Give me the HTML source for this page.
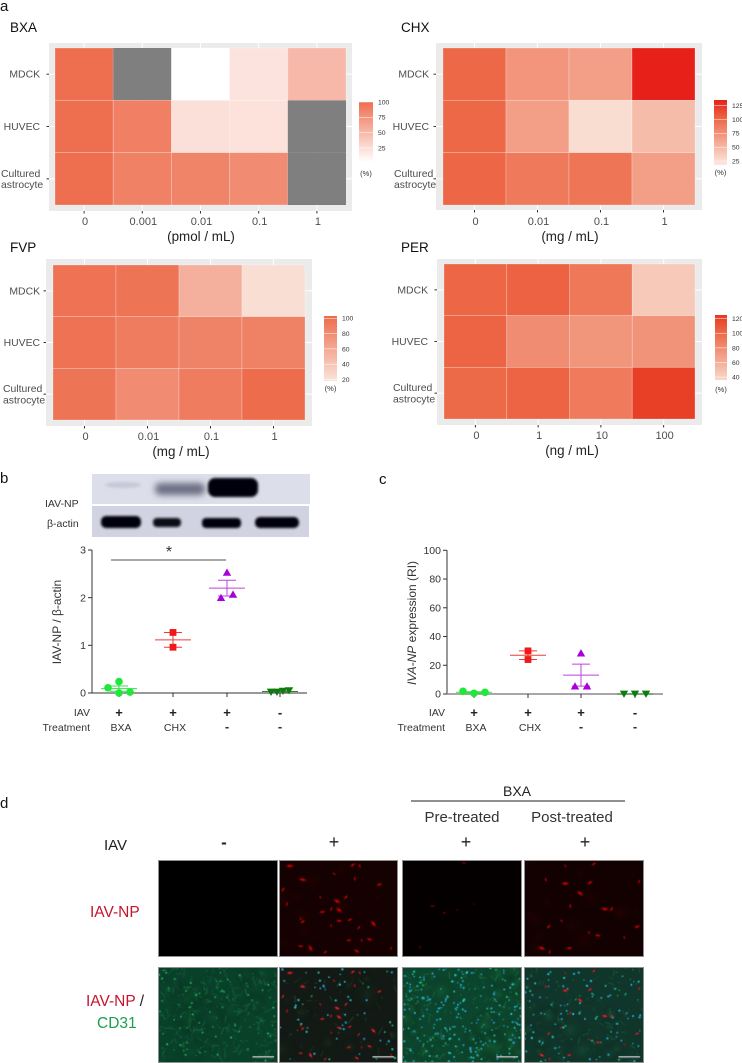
<!DOCTYPE html>
<html lang="en"><head><meta charset="utf-8"><title>Antiviral heatmaps, blot and microscopy figure</title>
<style>
html,body{margin:0;padding:0;background:#fff}
#figure{position:relative;width:742px;height:1063px;overflow:hidden;background:#fff;font-family:"Liberation Sans",sans-serif}
#main{position:absolute;left:0;top:0;filter:blur(.3px)}
canvas{position:absolute;display:block;box-sizing:border-box;border:1px solid #8f8f8f}
text{font-family:"Liberation Sans","DejaVu Sans",sans-serif}
</style></head>
<body>
<div id="figure">
<svg id="main" width="742" height="1063" viewBox="0 0 742 1063">
<defs>
<filter id="b1" x="-30%" y="-60%" width="160%" height="220%"><feGaussianBlur stdDeviation="1.4"/></filter>
<filter id="b2" x="-30%" y="-80%" width="160%" height="260%"><feGaussianBlur stdDeviation="3.2"/></filter>
</defs>
<g id="heatmaps"></g>
<text x="0" y="11" font-size="15" fill="#111">a</text>
<text x="0" y="483" font-size="15" fill="#111">b</text>
<text x="379" y="484" font-size="15" fill="#111">c</text>
<text x="0" y="808" font-size="15" fill="#111">d</text>

<g>
<rect x="92" y="474" width="218" height="30" fill="#dcdee9"/>
<rect x="92" y="506" width="217" height="31" fill="#d2d3e2"/>
<ellipse cx="123" cy="485" rx="18" ry="3" fill="#c6c8d8" filter="url(#b1)"/>
<rect x="155" y="483" width="50" height="12" rx="5" fill="#6d6e84" filter="url(#b2)"/>
<rect x="208" y="478" width="50" height="19" rx="7" fill="#020208" filter="url(#b1)"/>
<rect x="101" y="516" width="40" height="12" rx="5" fill="#05050f" filter="url(#b1)"/>
<rect x="153" y="518" width="28" height="9" rx="4" fill="#0a0a18" filter="url(#b1)"/>
<rect x="202" y="518" width="39" height="10" rx="4" fill="#05050f" filter="url(#b1)"/>
<rect x="255" y="517" width="44" height="11" rx="5" fill="#05050f" filter="url(#b1)"/>
<text x="45" y="507" font-size="10.5" fill="#333">IAV-NP</text>
<text x="47" y="527" font-size="10.5" fill="#333">β-actin</text>
</g>
<g id="scatterB"></g>
<g id="scatterC"></g>

<g>
<text x="517" y="796" font-size="14" text-anchor="middle" fill="#222">BXA</text>
<line x1="411" x2="625" y1="801" y2="801" stroke="#222" stroke-width="1"/>
<text x="462" y="822" font-size="15" text-anchor="middle" fill="#333">Pre-treated</text>
<text x="572" y="822" font-size="15" text-anchor="middle" fill="#333">Post-treated</text>
<text x="104" y="850" font-size="15" fill="#222">IAV</text>
<text x="224" y="848" font-size="17" font-weight="bold" text-anchor="middle" fill="#222">-</text>
<text x="334" y="848" font-size="18" text-anchor="middle" fill="#222">+</text>
<text x="466" y="848" font-size="18" text-anchor="middle" fill="#222">+</text>
<text x="585" y="848" font-size="18" text-anchor="middle" fill="#222">+</text>
<text x="90" y="917" font-size="15.5" fill="#c5142f">IAV-NP</text>
<text x="86" y="1006" font-size="15.5" fill="#c5142f">IAV-NP <tspan fill="#222">/</tspan></text>
<text x="97" y="1028" font-size="15.5" fill="#1aa050">CD31</text>
</g>
</svg>
</div>
<script>
// ---------- Heatmap data ----------
const heatRows = ['MDCK', 'HUVEC', 'Cultured astrocyte'];
const bxaDoses = ['0', '0.001', '0.01', '0.1', '1'];
const chxDoses = ['0', '0.01', '0.1', '1'];
const fvpDoses = ['0', '0.01', '0.1', '1'];
const perDoses = ['0', '1', '10', '100'];
const bxaValues = [[100, null, 2, 21, 50], [100, 89, 23, 22, null], [100, 88, 86, 80, null]];
const chxValues = [[101, 72, 66, 135], [101, 66, 26, 47], [102, 90, 93, 66]];
const fvpValues = [[99, 97, 55, 22], [99, 92, 87, 88], [97, 80, 92, 103]];
const perValues = [[102, 104, 92, 45], [103, 80, 75, 76], [100, 103, 90, 122]];
const bxaTicks = [100, 75, 50, 25];
const chxTicks = [125, 100, 75, 50, 25];
const fvpTicks = [100, 80, 60, 40, 20];
const perTicks = [120, 100, 80, 60, 40];
// ---------- Scatter data ----------
const groupSymbols = ['+', '+', '+', '-'];
const groupTreatments = ['BXA', 'CHX', '-', '-'];
const blotBxa = [0.24, 0.11, 0.0, 0.02];
const blotChx = [1.27, 0.96];
const blotNone = [2.53, 2.07, 2.0];
const blotMock = [0.02, 0.04, 0.05, 0.02];
const blotTicks = [0, 1, 2, 3];
const rnaBxa = [1.9, 0.5, 1.2];
const rnaChx = [30, 24];
const rnaNone = [28.5, 5.5, 5.5];
const rnaMock = [0, 0, 0];
const rnaTicks = [0, 20, 40, 60, 80, 100];

const NS = 'http://www.w3.org/2000/svg';
function mk(parent, tag, attrs) {
  const e = document.createElementNS(NS, tag);
  for (const k in attrs) e.setAttribute(k, attrs[k]);
  parent.appendChild(e);
  return e;
}
function hex(c) { return [1, 3, 5].map(i => parseInt(c.substr(i, 2), 16)); }
function colorScale(domain, colors) {
  return function (v) {
    v = Math.max(domain[0], Math.min(domain[domain.length - 1], v));
    let i = 0;
    while (i < domain.length - 2 && v > domain[i + 1]) i++;
    const t = (v - domain[i]) / (domain[i + 1] - domain[i]);
    const a = hex(colors[i]), b = hex(colors[i + 1]);
    return 'rgb(' + a.map((x, j) => Math.round(x + (b[j] - x) * t)).join(',') + ')';
  };
}
let gradId = 0;
function drawHeatmap(key, title, cols, unit, values, ticks, domain, colors, g) {
  const root = document.getElementById('heatmaps');
  const grp = mk(root, 'g', {});
  
  
  const scale = colorScale(domain, colors);
  const [px0, py0, px1, py1] = g.panel, [tx0, ty0, tx1, ty1] = g.tile;
  const cw = (tx1 - tx0) / cols.length, rh = (ty1 - ty0) / heatRows.length;
  const xc = i => tx0 + cw * (i + 0.5), yc = i => ty0 + rh * (i + 0.5);

  const tt = mk(grp, 'text', {x: g.titleX, y: g.titleY, 'font-size': 13.5, fill: '#111'});
  tt.textContent = title;
  
  
  const bg = mk(grp, 'rect', {x: px0, y: py0, width: px1 - px0, height: py1 - py0, fill: '#ebebeb'});
  
  

  cols.forEach((c, i) => {
    const gl = mk(grp, 'line', {x1: xc(i), x2: xc(i), y1: py0, y2: py1, stroke: '#fff', 'stroke-width': 1});
    
    
    const tk = mk(grp, 'line', {x1: xc(i), x2: xc(i), y1: py1, y2: py1 + 2.5, stroke: '#333', 'stroke-width': 1});
    
    
    const tl = mk(grp, 'text', {x: xc(i) + 1, y: ty1 + 20, 'font-size': 11, 'text-anchor': 'middle', fill: '#4d4d4d'});
    tl.textContent = c;
    
    
  });
  heatRows.forEach((r, i) => {
    const gl = mk(grp, 'line', {x1: px0, x2: px1, y1: yc(i), y2: yc(i), stroke: '#fff', 'stroke-width': 1});
    
    
    const tk = mk(grp, 'line', {x1: px0 - 2.5, x2: px0, y1: yc(i), y2: yc(i), stroke: '#333', 'stroke-width': 1});
    
    
    const parts = r.split(' ');
    parts.forEach((p, k) => {
      const multi = parts.length > 1;
      const tl = mk(grp, 'text', {
        x: multi ? g.multiStart : g.labelEnd,
        y: multi ? yc(i) - 2 + k * 11.2 : yc(i) + 3.5,
        'font-size': 10.4, fill: '#4d4d4d', 'text-anchor': multi ? 'start' : 'end'
      });
      tl.textContent = p;
      
      
    });
  });
  values.forEach((row, ri) => row.forEach((v, ci) => {
    const cell = mk(grp, 'rect', {
      x: tx0 + ci * cw, y: ty0 + ri * rh, width: cw, height: rh,
      fill: v === null ? '#7f7f7f' : scale(v),
      stroke: v === null ? 'none' : 'rgba(255,255,255,.35)', 'stroke-width': 0.7
    });
    
    
  }));
  const ut = mk(grp, 'text', {x: g.unitX, y: ty1 + 36, 'font-size': 13.4, 'text-anchor': 'middle', fill: '#222'});
  ut.textContent = unit;
  
  

  // colour legend
  const [lx0, ly0, lx1, ly1] = g.legend;
  const id = 'grad' + (gradId++);
  const defs = document.querySelector('#main defs');
  const lg = mk(defs, 'linearGradient', {id: id, x1: 0, y1: 1, x2: 0, y2: 0});
  const lo = domain[0], hi = domain[domain.length - 1];
  for (let s = 0; s <= 20; s++) mk(lg, 'stop', {offset: s / 20, 'stop-color': scale(lo + (hi - lo) * s / 20)});
  const lr = mk(grp, 'rect', {x: lx0, y: ly0, width: lx1 - lx0, height: ly1 - ly0, fill: 'url(#' + id + ')'});
  
  
  const ly = v => ly1 - (v - lo) / (hi - lo) * (ly1 - ly0);
  ticks.forEach(t => {
    const m = mk(grp, 'line', {x1: lx0, x2: lx1, y1: ly(t), y2: ly(t), stroke: '#fff', 'stroke-width': 0.6, 'stroke-opacity': 0.8});
    
    
    const l = mk(grp, 'text', {x: lx1 + 5, y: ly(t) + 2.4, 'font-size': 6.8, fill: '#333'});
    l.textContent = t;
    
    
  });
  const pct = mk(grp, 'text', {x: (lx0 + lx1) / 2, y: g.pctY, 'font-size': 7.5, 'text-anchor': 'middle', fill: '#333'});
  pct.textContent = '(%)';
  
  
}

drawHeatmap('bxa', 'BXA', bxaDoses, '(pmol / mL)', bxaValues, bxaTicks, [2, 100], ['#ffffff', '#ee6f4f'],
  {panel: [49, 43, 352, 211], tile: [55, 48, 346, 205], titleX: 10, titleY: 32, labelEnd: 40, multiStart: 1, legend: [359, 102, 373, 162], pctY: 176, unitX: 201});
drawHeatmap('chx', 'CHX', chxDoses, '(mg / mL)', chxValues, chxTicks, [18, 100, 135], ['#fbe9e0', '#ed6a48', '#e7201a'],
  {panel: [436, 43, 702, 210], tile: [443, 48, 695, 205], titleX: 401, titleY: 32, labelEnd: 429, multiStart: 394, legend: [714, 100, 727, 165], pctY: 175, unitX: 570});
drawHeatmap('fvp', 'FVP', fvpDoses, '(mg / mL)', fvpValues, fvpTicks, [18, 103], ['#fae4da', '#ed6c4c'],
  {panel: [46, 259, 312, 426], tile: [53, 265, 305, 420], titleX: 10, titleY: 252, labelEnd: 40, multiStart: 3, legend: [324, 316, 337, 381], pctY: 391, unitX: 181});
drawHeatmap('per', 'PER', perDoses, '(ng / mL)', perValues, perTicks, [36, 100, 125], ['#f8d8ca', '#ed6a48', '#e73a22'],
  {panel: [437, 259, 702, 425], tile: [444, 264, 695, 419], titleX: 401, titleY: 252, labelEnd: 428, multiStart: 393, legend: [715, 315, 727, 380], pctY: 392, unitX: 572});

// ---------- Scatter plots ----------
function spread(vals, yScale) {
  const order = vals.map((v, i) => i).sort((a, b) => vals[a] - vals[b]);
  const off = vals.map(() => 0);
  let cl = [];
  function flush() {
    const n = cl.length;
    if (n > 1 && n % 2 === 0) {
      const sp = 24 / n;
      cl.forEach((idx, k) => { off[idx] = (k - (n - 1) / 2) * sp; });
    } else if (n > 1) {
      cl.forEach((idx, k) => { off[idx] = k === 0 ? 0 : (k % 2 ? 1 : -1) * Math.ceil(k / 2) * 11; });
    }
    cl = [];
  }
  order.forEach(idx => {
    if (cl.length && Math.abs(yScale(vals[idx]) - yScale(vals[cl[cl.length - 1]])) >= 5.5) flush();
    cl.push(idx);
  });
  flush();
  return off;
}
function symbol(parent, type, x, y, fill) {
  let e;
  if (type === 'circle') e = mk(parent, 'circle', {cx: x, cy: y, r: 3.8, fill: fill});
  if (type === 'square') e = mk(parent, 'rect', {x: x - 3.4, y: y - 3.4, width: 6.8, height: 6.8, fill: fill});
  if (type === 'up') e = mk(parent, 'polygon', {points: [x - 4.2, y + 3.4, x + 4.2, y + 3.4, x, y - 3.9].join(' '), fill: fill});
  if (type === 'down') e = mk(parent, 'polygon', {points: [x - 4.2, y - 3.4, x + 4.2, y - 3.4, x, y + 3.9].join(' '), fill: fill});
  return e;
}
function drawScatter(rootId, series, ticks, a) {
  const root = document.getElementById(rootId);
  const y = a.y;
  const ya = mk(root, 'line', {x1: a.x0, x2: a.x0, y1: y(ticks[ticks.length - 1]), y2: y(0), stroke: '#333', 'stroke-width': 1});
  
  
  const xa = mk(root, 'line', {x1: a.x0, x2: a.x1, y1: y(0), y2: y(0), stroke: a.xColor, 'stroke-width': a.xWidth});
  
  
  ticks.forEach(t => {
    const tk = mk(root, 'line', {x1: a.x0 - 4, x2: a.x0, y1: y(t), y2: y(t), stroke: '#333', 'stroke-width': 1});
    
    
    const tl = mk(root, 'text', {x: a.x0 - 6, y: y(t) + 3.7, 'font-size': 10.5, 'text-anchor': 'end', fill: '#333'});
    tl.textContent = t;
    
    
  });
  series.forEach((s, gi) => {
    const cx = a.cats[gi];
    const tk = mk(root, 'line', {x1: cx, x2: cx, y1: y(0), y2: y(0) + 4, stroke: '#333', 'stroke-width': 1});
    
    
    const n = s.values.length;
    const mean = s.values.reduce((p, c) => p + c, 0) / n;
    const sd = Math.sqrt(s.values.reduce((p, c) => p + (c - mean) * (c - mean), 0) / (n - 1));
    const sem = sd / Math.sqrt(n);
    const ml = mk(root, 'line', {x1: cx - 18, x2: cx + 18, y1: y(mean), y2: y(mean), stroke: s.line, 'stroke-width': 1});
    
    
    const el = mk(root, 'line', {x1: cx, x2: cx, y1: y(mean - sem), y2: y(mean + sem), stroke: s.line, 'stroke-width': 1});
    
    
    [mean - sem, mean + sem].forEach(c => {
      const cap = mk(root, 'line', {x1: cx - 9, x2: cx + 9, y1: y(c), y2: y(c), stroke: s.line, 'stroke-width': 1});
      
      
    });
    const off = spread(s.values, y);
    s.values.forEach((v, i) => {
      const p = symbol(root, s.shape, cx + off[i], y(v), s.fill);
      
      
    });
    const plus = mk(root, 'text', {x: cx, y: a.rowY1 + 1, 'font-size': 13, 'font-weight': 'bold', 'text-anchor': 'middle', fill: '#222'});
    plus.textContent = groupSymbols[gi];
    
    
    const isDash = groupTreatments[gi] === '-';
    const tr = mk(root, 'text', {x: isDash ? cx : cx + 2, y: a.rowY2, 'font-size': isDash ? 13 : 10.5, 'font-weight': isDash ? 'bold' : 'normal', 'text-anchor': 'middle', fill: '#333'});
    tr.textContent = groupTreatments[gi];
    
    
  });
  const r1 = mk(root, 'text', {x: a.rowEnd, y: a.rowY1, 'font-size': 10.5, 'text-anchor': 'end', fill: '#333'});
  r1.textContent = 'IAV';
  
  
  const r2 = mk(root, 'text', {x: a.rowEnd, y: a.rowY2, 'font-size': 10.5, 'text-anchor': 'end', fill: '#333'});
  r2.textContent = 'Treatment';
  
  
}
const blotY = v => 693 - v * 47.67;
const rnaY = v => 694 - v * 1.437;
drawScatter('scatterB', [
  {values: blotBxa, shape: 'circle', fill: '#1fe83a', line: '#34e04a'},
  {values: blotChx, shape: 'square', fill: '#f01818', line: '#ef3a3a'},
  {values: blotNone, shape: 'up', fill: '#a800d8', line: '#c040e0'},
  {values: blotMock, shape: 'down', fill: '#0f7a10', line: '#2a8a2a'}
], blotTicks, {x0: 92, x1: 307, y: blotY, cats: [119, 173, 227, 280], xColor: '#333', xWidth: 1, rowY1: 716, rowY2: 731, rowEnd: 90});
drawScatter('scatterC', [
  {values: rnaBxa, shape: 'circle', fill: '#1fe83a', line: '#34e04a'},
  {values: rnaChx, shape: 'square', fill: '#f01818', line: '#ef3a3a'},
  {values: rnaNone, shape: 'up', fill: '#a800d8', line: '#c040e0'},
  {values: rnaMock, shape: 'down', fill: '#0f7a10', line: '#2a8a2a'}
], rnaTicks, {x0: 447, x1: 663, y: rnaY, cats: [474, 528, 581, 635], xColor: '#8a8a8a', xWidth: 1.4, rowY1: 716, rowY2: 731, rowEnd: 445});

const sb = document.getElementById('scatterB');
const sigLine = mk(sb, 'line', {x1: 111, x2: 226, y1: 560, y2: 560, stroke: '#555', 'stroke-width': 1});


const sigStar = mk(sb, 'text', {x: 169, y: 557, 'font-size': 16, 'text-anchor': 'middle', fill: '#333'});
sigStar.textContent = '*';


const bTitle = mk(sb, 'text', {transform: 'translate(61 622) rotate(-90)', 'font-size': 12, 'text-anchor': 'middle', fill: '#333'});
bTitle.textContent = 'IAV-NP / β-actin';


const sc = document.getElementById('scatterC');
const cTitle = mk(sc, 'text', {transform: 'translate(416 623) rotate(-90)', 'font-size': 12, 'text-anchor': 'middle', fill: '#333'});
const cItal = mk(cTitle, 'tspan', {'font-style': 'italic'});
cItal.textContent = 'IVA-NP';
const cRest = mk(cTitle, 'tspan', {});
cRest.textContent = ' expression (RI)';



// ---------- Microscopy images (decorative texture, not chart data) ----------
const infectedSpots = [[10,5],[81,5],[74,4],[55,13],[3,29],[23,19],[76,18],[101,24],[41,37],[67,37],[58,41],[7,44],[43,52],[21,59],[23,62],[60,50],[52,49],[60,61],[52,66],[71,60],[95,64],[80,68],[91,80],[83,81],[70,81],[31,89],[46,93],[78,92],[113,89],[21,87]];
const postSpots = [[41,23],[21,19],[66,22],[37,61],[88,49],[81,49],[46,46],[114,67],[65,73],[24,67],[17,89],[25,93],[45,89],[41,5],[70,3],[56,33],[116,21],[74,76],[101,78]];
const preSpots = [[30,46],[55,50],[42,53],[72,44],[17,88],[62,2]];
const spotSizes = [1, 0.6, 0.8, 0.5, 0.7];
function rng(seed) { let s = seed; return () => (s = (s * 16807) % 2147483647) / 2147483647; }
function panel(name, x, y, w, h, bg, spots, opt) {
  const c = document.createElement('canvas');
  c.width = w; c.height = h;
  c.style.left = x + 'px'; c.style.top = y + 'px';
  c.style.width = w + 'px'; c.style.height = h + 'px';
  c.style.filter = 'blur(.35px)';
  
  
  document.getElementById('figure').appendChild(c);
  const g = c.getContext('2d');
  g.fillStyle = bg; g.fillRect(0, 0, w, h);
  const r = rng(opt.seed || 7);
  for (let i = 0; i < (opt.haze || 0); i++) {
    const px = r() * w, py = r() * h, rad = 6 + r() * 14;
    const gr = g.createRadialGradient(px, py, 0, px, py, rad);
    gr.addColorStop(0, opt.hazeColor); gr.addColorStop(1, 'rgba(0,0,0,0)');
    g.fillStyle = gr; g.fillRect(px - rad, py - rad, 2 * rad, 2 * rad);
  }
  for (let i = 0; i < (opt.streaks || 0); i++) {
    const px = r() * w, py = r() * h, a = r() * 6.28, l = 2 + r() * 7;
    g.strokeStyle = opt.streakColor; g.lineWidth = 0.5 + r() * 0.7;
    g.beginPath(); g.moveTo(px, py); g.lineTo(px + Math.cos(a) * l, py + Math.sin(a) * l); g.stroke();
  }
  for (let i = 0; i < (opt.green || 0); i++) {
    g.fillStyle = 'rgba(45,220,110,' + (0.3 + r() * 0.6) + ')';
    g.beginPath(); g.arc(r() * w, r() * h, 0.4 + r() * 0.7, 0, 6.3); g.fill();
  }
  for (let i = 0; i < (opt.cyan || 0); i++) {
    g.fillStyle = r() > 0.5 ? 'rgba(40,170,225,.95)' : 'rgba(40,205,200,.9)';
    g.beginPath(); g.arc(r() * w, r() * h, 0.7 + r() * 0.5, 0, 6.3); g.fill();
  }
  spots.forEach((s, i) => {
    const R = opt.spotR * spotSizes[i % spotSizes.length];
    g.save();
    g.translate(s[0], s[1]);
    g.rotate(i * 1.3);
    g.scale(1.7, 0.8);
    const gr = g.createRadialGradient(0, 0, 0, 0, 0, R);
    gr.addColorStop(0, opt.spotCore); gr.addColorStop(0.4, opt.spotMid); gr.addColorStop(1, 'rgba(120,0,0,0)');
    g.fillStyle = gr;
    g.fillRect(-R, -R, 2 * R, 2 * R);
    g.restore();
  });
  if (opt.bar) {
    g.fillStyle = '#c8c8c8';
    g.fillRect(w - 25, h - 6, 22, 1.4);
  }
}
const top1 = 860, top2 = 967, H1 = 97, H2 = 96;
panel('micrograph-np-mock', 158, top1, 120, H1, '#000000', [], {});
panel('micrograph-np-iav', 279, top1, 119, H1, '#150101', infectedSpots, {seed: 11, haze: 12, hazeColor: 'rgba(80,0,0,.2)', spotR: 3, spotCore: '#ff1010', spotMid: 'rgba(220,0,0,.6)'});
panel('micrograph-np-pre', 402, top1, 120, H1, '#040000', preSpots, {seed: 19, spotR: 1.8, spotCore: '#b00808', spotMid: 'rgba(130,0,0,.7)'});
panel('micrograph-np-post', 524, top1, 120, H1, '#130101', postSpots, {seed: 23, haze: 14, hazeColor: 'rgba(80,0,0,.22)', spotR: 3, spotCore: '#ff1010', spotMid: 'rgba(220,0,0,.6)'});
panel('micrograph-merge-mock', 158, top2, 120, H2, '#09402a', [], {seed: 31, haze: 20, hazeColor: 'rgba(20,100,55,.25)', streaks: 220, streakColor: 'rgba(35,140,80,.4)', green: 120, bar: true});
panel('micrograph-merge-iav', 279, top2, 119, H2, '#131a15', infectedSpots, {seed: 37, haze: 8, hazeColor: 'rgba(30,70,40,.3)', streaks: 40, streakColor: 'rgba(45,110,70,.35)', cyan: 55, green: 8, spotR: 2.6, spotCore: '#ff6078', spotMid: 'rgba(220,20,30,.7)', bar: true});
panel('micrograph-merge-pre', 402, top2, 120, H2, '#0c452d', [], {seed: 41, haze: 24, hazeColor: 'rgba(30,130,70,.3)', streaks: 90, streakColor: 'rgba(40,150,80,.4)', cyan: 210, green: 60, bar: true});
panel('micrograph-merge-post', 524, top2, 120, H2, '#10352a', postSpots, {seed: 43, haze: 16, hazeColor: 'rgba(30,110,70,.28)', streaks: 60, streakColor: 'rgba(40,130,80,.4)', cyan: 90, green: 30, spotR: 2.6, spotCore: '#ff6078', spotMid: 'rgba(220,20,30,.7)', bar: true});
</script>
</body></html>
